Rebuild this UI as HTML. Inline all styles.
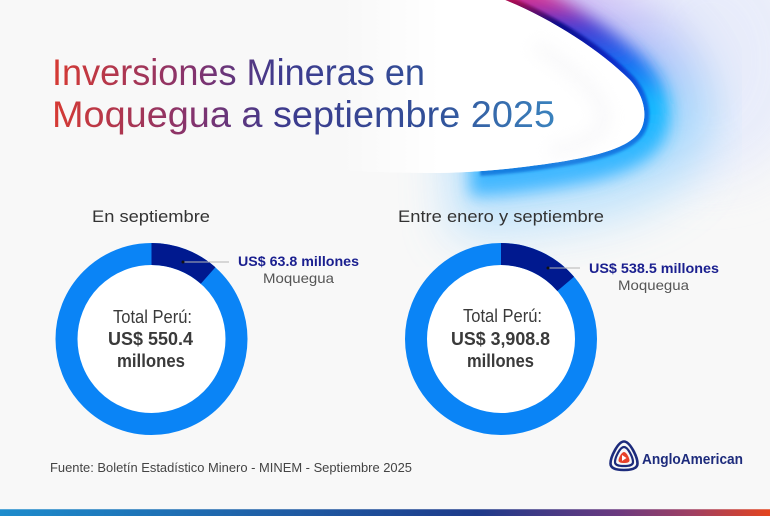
<!DOCTYPE html>
<html>
<head>
<meta charset="utf-8">
<style>
  html,body{margin:0;padding:0;background:#f8f8f8;}
  svg{display:block;}
  text{font-family:"Liberation Sans", sans-serif;}
</style>
</head>
<body>
<svg width="770" height="516" viewBox="0 0 770 516" xmlns="http://www.w3.org/2000/svg">
  <defs>
    <linearGradient id="titleGrad" gradientUnits="userSpaceOnUse" x1="52" y1="0" x2="555" y2="0">
      <stop offset="0" stop-color="#d42a22"/>
      <stop offset="0.28" stop-color="#7a2262"/>
      <stop offset="0.45" stop-color="#2e2a84"/>
      <stop offset="0.75" stop-color="#20408f"/>
      <stop offset="1" stop-color="#2a78b8"/>
    </linearGradient>
    <linearGradient id="haloGrad" gradientUnits="userSpaceOnUse" x1="0" y1="0" x2="0" y2="195">
      <stop offset="0" stop-color="#cdb4f6"/>
      <stop offset="0.22" stop-color="#a8b6f6"/>
      <stop offset="0.55" stop-color="#90d0fc"/>
      <stop offset="1" stop-color="#b8e0fc"/>
    </linearGradient>
    <linearGradient id="midGrad" gradientUnits="userSpaceOnUse" x1="0" y1="0" x2="0" y2="175">
      <stop offset="0" stop-color="#d8308f"/>
      <stop offset="0.14" stop-color="#4a3ad0"/>
      <stop offset="0.34" stop-color="#1a66f0"/>
      <stop offset="0.58" stop-color="#10b8ff"/>
      <stop offset="1" stop-color="#44b8ff"/>
    </linearGradient>
    <linearGradient id="edgeGrad" gradientUnits="userSpaceOnUse" x1="0" y1="0" x2="0" y2="175">
      <stop offset="0" stop-color="#b00c50"/>
      <stop offset="0.14" stop-color="#0c0c8c"/>
      <stop offset="0.34" stop-color="#0a2ac8"/>
      <stop offset="0.57" stop-color="#0a6ae6"/>
      <stop offset="1" stop-color="#1a80e0"/>
    </linearGradient>
    <linearGradient id="whiteFade" gradientUnits="userSpaceOnUse" x1="340" y1="0" x2="440" y2="0">
      <stop offset="0" stop-color="#ffffff" stop-opacity="0"/>
      <stop offset="1" stop-color="#ffffff" stop-opacity="1"/>
    </linearGradient>
    <linearGradient id="stripe" x1="0" y1="0" x2="1" y2="0">
      <stop offset="0" stop-color="#1e8ccc"/>
      <stop offset="0.35" stop-color="#1f5fa6"/>
      <stop offset="0.62" stop-color="#1e3a8a"/>
      <stop offset="0.8" stop-color="#6a3a80"/>
      <stop offset="0.9" stop-color="#a04062"/>
      <stop offset="1" stop-color="#e4441e"/>
    </linearGradient>
    <filter id="blurBig" x="-50%" y="-50%" width="200%" height="200%"><feGaussianBlur stdDeviation="24"/></filter>
    <filter id="blurMid" x="-50%" y="-50%" width="200%" height="200%"><feGaussianBlur stdDeviation="8"/></filter>
    <filter id="blurSm" x="-50%" y="-50%" width="200%" height="200%"><feGaussianBlur stdDeviation="1.2"/></filter>
    <mask id="outside" maskUnits="userSpaceOnUse" x="0" y="0" width="770" height="516">
      <rect x="0" y="0" width="770" height="516" fill="#fff"/>
      <path d="M250,-20 L465,-18 L505,0 C550,18 600,50 630,80 C648,100 648,125 636,136 C620,152 580,160 523,167 C490,171 460,173 430,173 L250,173 Z" fill="#000"/>
    </mask>
  </defs>

  <rect width="770" height="516" fill="#f8f8f8"/>

  <!-- swoosh -->
  <g mask="url(#outside)">
    <ellipse cx="710" cy="60" rx="100" ry="120" fill="#e4e9fb" opacity="0.8" filter="url(#blurBig)"/>
    <path d="M465,-18 L505,0 C550,18 600,50 630,80 C648,100 648,125 636,136 C620,152 580,160 523,167 C500,170 480,171 450,172"
          fill="none" stroke="url(#haloGrad)" stroke-width="130" opacity="0.85" filter="url(#blurBig)"/>
    <path d="M465,-18 L505,0 C550,18 600,50 630,80 C648,100 648,125 636,136 C620,152 580,160 523,167 C500,170 485,171 470,171"
          fill="none" stroke="url(#midGrad)" stroke-width="50" filter="url(#blurMid)"/>
    <path d="M465,-18 L505,0 C550,18 600,50 630,80 C648,100 648,125 636,136 C620,152 580,160 523,167 C505,169 495,170 480,171"
          fill="none" stroke="url(#edgeGrad)" stroke-width="10" filter="url(#blurSm)"/>
  </g>
  <!-- white area -->
  <path d="M330,0 L505,0 C550,18 600,50 630,80 C648,100 648,125 636,136 C620,152 580,160 523,167 C490,171 460,173 430,173 C400,173 370,172 330,170 Z"
        fill="url(#whiteFade)"/>
  <path d="M535,45 C582,75 606,100 604,120 C602,136 582,146 550,152"
        fill="none" stroke="#e9e9ee" stroke-width="14" opacity="0.3" filter="url(#blurMid)"/>

  <!-- title -->
  <g fill-opacity="0.92">
  <text x="52" y="85" font-size="37" fill="url(#titleGrad)" textLength="373" lengthAdjust="spacingAndGlyphs">Inversiones Mineras en</text>
  <text x="52" y="127" font-size="37" fill="url(#titleGrad)" textLength="503" lengthAdjust="spacingAndGlyphs">Moquegua a septiembre 2025</text>
  </g>

  <!-- section headings -->
  <text x="92" y="222" font-size="17" fill="#333" textLength="118" lengthAdjust="spacingAndGlyphs">En septiembre</text>
  <text x="398" y="222" font-size="17" fill="#333" textLength="206" lengthAdjust="spacingAndGlyphs">Entre enero y septiembre</text>

  <!-- left donut -->
  <circle cx="151.5" cy="339" r="85" fill="#ffffff" stroke="#0a84f6" stroke-width="22"/>
  <path d="M151.5,254 A85,85 0 0 1 208.1,275.5" fill="none" stroke="#00198f" stroke-width="22"/>
  <line x1="183" y1="262" x2="229" y2="262" stroke="#b5b5b5" stroke-width="1"/>
  <circle cx="183" cy="262" r="1.5" fill="#111"/>
  <text x="238" y="266" font-size="14" font-weight="bold" fill="#1a1f8f" textLength="121" lengthAdjust="spacingAndGlyphs">US$ 63.8 millones</text>
  <text x="263" y="283" font-size="14" fill="#555" textLength="71" lengthAdjust="spacingAndGlyphs">Moquegua</text>
  <text x="152.5" y="323" font-size="18" fill="#3a3a3a" text-anchor="middle" textLength="79" lengthAdjust="spacingAndGlyphs">Total Perú:</text>
  <text x="150.5" y="345" font-size="18" font-weight="bold" fill="#3a3a3a" text-anchor="middle" textLength="85" lengthAdjust="spacingAndGlyphs">US$ 550.4</text>
  <text x="151" y="367" font-size="18" font-weight="bold" fill="#3a3a3a" text-anchor="middle" textLength="68" lengthAdjust="spacingAndGlyphs">millones</text>

  <!-- right donut -->
  <circle cx="501" cy="339" r="85" fill="#ffffff" stroke="#0a84f6" stroke-width="22"/>
  <path d="M501,254 A85,85 0 0 1 565.7,283.9" fill="none" stroke="#00198f" stroke-width="22"/>
  <line x1="548" y1="268" x2="580" y2="268" stroke="#b5b5b5" stroke-width="1"/>
  <circle cx="548" cy="268" r="1.5" fill="#111"/>
  <text x="589" y="273" font-size="14" font-weight="bold" fill="#1a1f8f" textLength="130" lengthAdjust="spacingAndGlyphs">US$ 538.5 millones</text>
  <text x="618" y="290" font-size="14" fill="#555" textLength="71" lengthAdjust="spacingAndGlyphs">Moquegua</text>
  <text x="502.5" y="322" font-size="18" fill="#3a3a3a" text-anchor="middle" textLength="79" lengthAdjust="spacingAndGlyphs">Total Perú:</text>
  <text x="500.5" y="345" font-size="18" font-weight="bold" fill="#3a3a3a" text-anchor="middle" textLength="99" lengthAdjust="spacingAndGlyphs">US$ 3,908.8</text>
  <text x="500.5" y="367" font-size="18" font-weight="bold" fill="#3a3a3a" text-anchor="middle" textLength="67" lengthAdjust="spacingAndGlyphs">millones</text>

  <!-- footer -->
  <text x="50" y="472" font-size="13" fill="#444" textLength="362" lengthAdjust="spacingAndGlyphs">Fuente: Boletín Estadístico Minero - MINEM - Septiembre 2025</text>

  <!-- logo -->
  <g>
    <path d="M624,441.5 C630,441.5 637.5,457 637.5,463.5 C637.5,469 631,470 624,470 C617,470 610.5,469 610.5,463.5 C610.5,457 618,441.5 624,441.5 Z"
          fill="none" stroke="#1d2b7c" stroke-width="2.6"/>
    <path d="M624,447 C628,447 633,457.5 633,462 C633,465.5 629,466 624,466 C619,466 615,465.5 615,462 C615,457.5 620,447 624,447 Z"
          fill="none" stroke="#1d2b7c" stroke-width="2.2"/>
    <path d="M624,452 C626.5,452 629.5,458 629.5,460.5 C629.5,462.5 627,463 624,463 C621,463 618.5,462.5 618.5,460.5 C618.5,458 621.5,452 624,452 Z"
          fill="#e8412a"/>
    <path d="M622,455 L622,461 L626.5,458 Z" fill="#ffffff"/>
    <text x="642" y="464" font-size="15" font-weight="bold" fill="#1d2b7c" textLength="101" lengthAdjust="spacingAndGlyphs">AngloAmerican</text>
  </g>

  <!-- bottom stripe -->
  <rect x="0" y="509" width="770" height="7" fill="url(#stripe)"/>
  <rect x="0" y="509" width="770" height="1" fill="#ffffff" opacity="0.25"/>
</svg>
</body>
</html>
